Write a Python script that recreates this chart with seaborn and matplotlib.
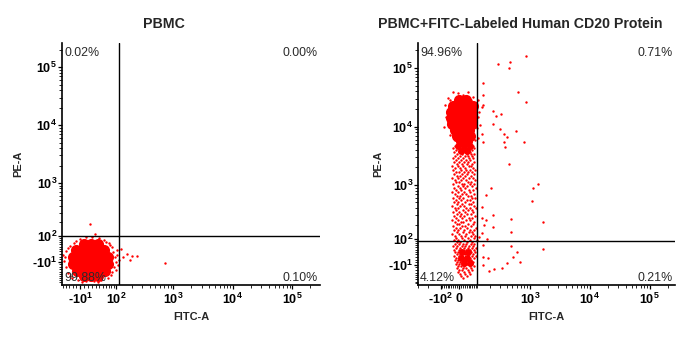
import numpy as np
import matplotlib
matplotlib.use("Agg")
import matplotlib.pyplot as plt
from matplotlib.ticker import FixedLocator, FixedFormatter, NullFormatter
import seaborn as sns

# ---------------- data ----------------
# Quadrant gates (FITC-A threshold, PE-A threshold) and quadrant statistics (UL, UR, LL, LR)
pbmc_gate = (116, 100)
cd20_gate = (100, 92)
pbmc_pct = ["0.02%", "0.00%", "99.88%", "0.10%"]
cd20_pct = ["94.96%", "0.71%", "4.12%", "0.21%"]

# PBMC alone: dense core of the double-negative population
pbmc_core_fitc = [-0.5, 17, 36,
                  -21, -3, 14.5, 33, 54,
                  -28.5, -10.4, 7, 25, 45, 68,
                  -28.5, -10.4, 7, 25, 45, 68,
                  -18, -0.5, 17, 36, 57.5,
                  -0.5, 17, 36]
pbmc_core_pe = [60.6, 60.6, 60.6,
                35, 35, 35, 35, 35,
                7.6, 7.6, 7.6, 7.6, 7.6, 7.6,
                -19.2, -19.2, -19.2, -19.2, -19.2, -19.2,
                -47.4, -47.4, -47.4, -47.4, -47.4,
                -70, -70, -70]
# PBMC alone: individual events at the rim of the population and outliers
pbmc_evt_fitc = [-10, 4.5, 20, 39, 54, -21, 71, -37, 83, -49, -52, -55, -49, -43, -31,
                 -15, 4.5, 25, 45, 68, 88, 96, 101, 92, 83, 106, 111,
                 -27, 60, 76, -44, -57, 100, 78, -38, -6, 35, 104, 114,
                 126, 138, 161, 198, 183, 243, 728, 14.5, 27]
pbmc_evt_pe = [84.5, 95, 95, 90, 80, 75, 65, 52, 47, 31, 7.6, -7.6, -31, -56, -80,
               -90, -95, -95, -90, -80, 27, 7.6, -11.5, -31, -52, 15, -23,
               68, 70, 58, 44, 16, -42, -64, -70, -102, -100, 38, -2,
               39, 7.6, 19, 11.5, -4, 11.5, -15, 181, 112]

# PBMC + FITC-CD20: dense core of the PE-high population
cd20_core_fitc = [0, 36,
                  -30.5, 5, 41, 74,
                  -41, -5, 30.5, 69,
                  -41, -5, 30.5, 69,
                  -36, 0, 36, 69,
                  -20, 15, 51,
                  -10, 25.5, 57,
                  10, 41]
cd20_core_pe = [28460, 28460,
                22450, 22450, 22450, 22450,
                17750, 17750, 17750, 17750,
                14000, 14000, 14000, 14000,
                11060, 11060, 11060, 11060,
                8740, 8740, 8740,
                6890, 6890, 6890,
                5660, 5660]
# denser patches: neck under the core and the PE-low cluster
cd20_patch_fitc = [-5, 25.5, 57, 10, 41, 15, 46, 10, 41, 25.5, 57]
cd20_patch_pe = [4650, 4650, 4650, 3820, 3820, 39.6, 39.6, 15.9, 15.9, -3, -3]

# PBMC + FITC-CD20: events along the PE streak, one PE level per row
cd20_streak_pe = [4650, 4300, 3970, 3670, 3395, 3137, 2900, 2680, 2477, 2290, 2117, 1956,
                  1807, 1670, 1544, 1427, 1318, 1218, 1126, 1040, 961, 888, 820, 757,
                  700, 646, 597, 551, 509, 470, 433, 399, 369, 340, 313, 288, 265, 243,
                  224, 205, 188, 172, 157, 143, 130, 117.5, 106, 95, 84.6, 74.8, 65.5,
                  56.4, 47.9, 39.6, 31.5, 23.7, 15.9, 8.3, 0.75, -6.8, -14.4, -22.1,
                  -30, -38, -46, -54.7, -64]
cd20_streak_fitc = [
    [-20, 5, 30.5, 57, 74], [-30.5, -5, 15, 41, 63, 80], [-15, 10, 25.5, 51, 69],
    [-25.5, 0, 20, 36, 57], [-10, 15, 41, 63, 80], [-20, 5, 30.5, 46, 69],
    [-30.5, -5, 20, 51, 74], [-15, 10, 36, 57], [-25.5, 0, 25.5, 46, 80],
    [-10, 15, 41, 69], [-36, -5, 20, 51, 63], [-20, 5, 30.5, 74],
    [-30.5, 10, 36, 57, 86], [-15, 0, 25.5, 46, 69], [-25.5, 15, 41, 80],
    [-10, 5, 30.5, 63], [-36, -5, 20, 51, 74], [-20, 10, 36, 86],
    [-15, 0, 46, 63], [-30.5, 15, 25.5, 57, 80], [-5, 20, 41, 69],
    [-25.5, 5, 30.5, 92], [-15, 10, 51, 74], [-36, -5, 25.5, 57],
    [-20, 15, 36, 80], [-10, 5, 46, 63], [-30.5, 0, 20, 69, 86],
    [-15, 10, 41, 57], [-25.5, -5, 30.5, 74], [-10, 15, 51, 63],
    [-36, 5, 25.5, 80], [-20, -5, 36, 57, 92], [-15, 20, 46, 69],
    [-30.5, 0, 30.5, 74], [-10, 10, 41, 63], [-25.5, 5, 25.5, 86],
    [-15, 15, 51, 69], [-36, -5, 36, 57], [-20, 10, 20, 80],
    [-10, 0, 46, 74], [-30.5, 15, 30.5, 63], [-15, 5, 41, 92],
    [-25.5, -5, 25.5, 57, 80], [-10, 20, 51, 69], [-36, 0, 36, 74],
    [-20, 10, 30.5, 63, 86], [-15, 15, 46, 80], [-25.5, -5, 25.5, 57, 98],
    [-10, 5, 41, 69], [-20, 0, 20, 36, 63, 80], [-30.5, -10, 15, 30.5, 51, 74],
    [-15, 5, 25.5, 46, 69, 92], [-25.5, 0, 10, 36, 57, 80], [-20, -5, 20, 41, 63, 86],
    [-10, 5, 30.5, 51, 74], [-25.5, 0, 15, 46, 69, 92], [-15, 10, 25.5, 57, 80],
    [-20, -5, 20, 36, 63], [-10, 5, 30.5, 51, 74], [-15, 0, 15, 41, 69],
    [-5, 10, 25.5, 57, 80], [-10, 20, 36, 63], [0, 15, 46, 69],
    [-5, 25.5, 51], [5, 30.5, 57], [10, 41], [20]]

# PBMC + FITC-CD20: rim of the core and scattered events
cd20_evt_fitc = [-57, -74, -69, -80, -46, -5, 46, 74, 105, 118, 105, 105, 133, -30.5,
                 -46, -63, -57, -36, -20, 20, 63, 92, 98, 86, 112,
                 280, 458, 440, 864, 140, 628, 864, 140, 227, 257, 318, 227, 304, 359,
                 406, 581, 794, 359, 374, 140, 133, 140, 440, 1368, 1129, 1085, 206,
                 163, 133, 227, 477, 1657, 163, 147, 227, 477, 133, 171, 140, 477, 604,
                 1657, 140, 516, 680, 406, 236, 331, 188, 140, 112, 179, 133]
cd20_evt_pe = [30800, 23300, 14600, 9830, 7170, 37400, 38900, 32000, 28460, 10630, 6370,
               14560, 21600, 38900,
               28460, 17750, 11960, 8740, 5890, 34600, 28460, 20760, 9450, 5890, 17750,
               117000, 127000, 100000, 161000, 55500, 38900, 26300, 34600, 18500, 15200,
               16400, 11100, 9080, 7470, 6630, 8400, 5450, 5450, 4470, 5450, 7470, 23300,
               2290, 1040, 888, 530, 888, 672, 416, 300, 254, 224, 243, 196, 180, 143,
               136, 100, 70, 65.5, 39.6, 52, 19.8, 19.8, 1, -3, -26, -22, -34, -10.6,
               112, 16, 265]

# Axis ticks and labels
pbmc_xticks = [-10, 100, 1000, 10000, 100000]
pbmc_xlabels = [r"-$\mathbf{10}^{\mathrm{1}}$", r"$\mathbf{10}^{\mathrm{2}}$",
                r"$\mathbf{10}^{\mathrm{3}}$", r"$\mathbf{10}^{\mathrm{4}}$",
                r"$\mathbf{10}^{\mathrm{5}}$"]
cd20_xticks = [-100, 0, 1000, 10000, 100000]
cd20_xlabels = [r"-$\mathbf{10}^{\mathrm{2}}$", r"$\mathbf{0}$",
                r"$\mathbf{10}^{\mathrm{3}}$", r"$\mathbf{10}^{\mathrm{4}}$",
                r"$\mathbf{10}^{\mathrm{5}}$"]
yticks = [-10, 100, 1000, 10000, 100000]
ylabels = [r"-$\mathbf{10}^{\mathrm{1}}$", r"$\mathbf{10}^{\mathrm{2}}$",
           r"$\mathbf{10}^{\mathrm{3}}$", r"$\mathbf{10}^{\mathrm{4}}$",
           r"$\mathbf{10}^{\mathrm{5}}$"]

# ---------------- style ----------------
sns.set_style("ticks")
plt.rcParams["font.family"] = ["Liberation Sans", "DejaVu Sans"]
plt.rcParams["font.weight"] = "bold"
plt.rcParams["mathtext.fontset"] = "custom"
plt.rcParams["mathtext.rm"] = "Liberation Sans"
plt.rcParams["mathtext.bf"] = "Liberation Sans:bold"
plt.rcParams["mathtext.it"] = "Liberation Sans:italic"

RED = "#ff0000"
TXT = "#2b2b2b"


def biex(c):
    """arcsinh display transform, linear near zero and log-like above ~c."""
    k = np.log(10)
    fwd = lambda v: np.arcsinh(np.asarray(v, float) / (2 * c)) / k
    inv = lambda u: 2 * c * np.sinh(np.asarray(u, float) * k)
    return fwd, inv


def minor_values():
    vals = [0.0]
    for e in range(1, 6):
        for m in range(1, 10):
            vals += [m * 10 ** e, -m * 10 ** e]
    return sorted(vals)


fig = plt.figure(figsize=(6.96, 3.4), dpi=100)
W, H = 696, 340
ax1 = fig.add_axes([62 / W, 1 - 285 / H, 258 / W, 242 / H])
ax2 = fig.add_axes([418 / W, 1 - 285 / H, 257 / W, 242 / H])


def draw_panel(ax, core, patch, evt, gate, pct, xticks, xlabels, xscale_c, yscale_c,
               xlim, ylim, streak=None):
    sns.scatterplot(x=core[0], y=core[1], ax=ax, color=RED, s=64, linewidth=0,
                    legend=False, zorder=2)
    if patch is not None:
        sns.scatterplot(x=patch[0], y=patch[1], ax=ax, color=RED, s=25, linewidth=0,
                        legend=False, zorder=2)
    if streak is not None:
        sx = [v for row in streak[1] for v in row]
        sy = [pe for pe, row in zip(streak[0], streak[1]) for _ in row]
        sns.scatterplot(x=sx, y=sy, ax=ax, color=RED, s=3, linewidth=0,
                        legend=False, zorder=2)
    sns.scatterplot(x=evt[0], y=evt[1], ax=ax, color=RED, s=3, linewidth=0,
                    legend=False, zorder=2)

    ax.set_xscale("function", functions=biex(xscale_c))
    ax.set_yscale("function", functions=biex(yscale_c))
    ax.set_xlim(*xlim)
    ax.set_ylim(*ylim)

    ax.axvline(gate[0], color="black", lw=1.0, zorder=3)
    ax.axhline(gate[1], color="black", lw=1.0, zorder=3)

    ax.xaxis.set_major_locator(FixedLocator(xticks))
    ax.xaxis.set_major_formatter(FixedFormatter(xlabels))
    ax.yaxis.set_major_locator(FixedLocator(yticks))
    ax.yaxis.set_major_formatter(FixedFormatter(ylabels))
    ax.xaxis.set_minor_locator(FixedLocator(minor_values()))
    ax.yaxis.set_minor_locator(FixedLocator(minor_values()))
    ax.xaxis.set_minor_formatter(NullFormatter())
    ax.yaxis.set_minor_formatter(NullFormatter())
    ax.tick_params(which="major", direction="out", length=3, width=0.9,
                   labelsize=9, colors="black")
    ax.tick_params(which="minor", direction="out", length=2, width=0.7)
    ax.tick_params(axis="x", which="major", pad=2)
    ax.tick_params(axis="y", which="major", pad=0.5)

    sns.despine(ax=ax)
    for s in ("left", "bottom"):
        ax.spines[s].set_linewidth(1.2)
        ax.spines[s].set_color("black")

    kw = dict(transform=ax.transAxes, fontsize=8.9, color=TXT, zorder=4,
              fontweight="normal")
    ax.text(0.008, 0.985, pct[0], ha="left", va="top", **kw)
    ax.text(0.992, 0.985, pct[1], ha="right", va="top", **kw)
    ax.text(0.008, 0.017, pct[2], ha="left", va="baseline", **kw)
    ax.text(0.992, 0.017, pct[3], ha="right", va="baseline", **kw)

    ax.set_xlabel("FITC-A", fontsize=7.9, fontweight="bold")
    ax.set_ylabel("PE-A", fontsize=7.9, fontweight="bold")
    ax.xaxis.set_label_coords(0.5, -0.112)


draw_panel(ax1, (pbmc_core_fitc, pbmc_core_pe), None, (pbmc_evt_fitc, pbmc_evt_pe),
           pbmc_gate, pbmc_pct, pbmc_xticks, pbmc_xlabels, 32, 48,
           (-62, 2.9e5), (-117, 2.64e5))
draw_panel(ax2, (cd20_core_fitc, cd20_core_pe), (cd20_patch_fitc, cd20_patch_pe),
           (cd20_evt_fitc, cd20_evt_pe), cd20_gate, cd20_pct, cd20_xticks, cd20_xlabels,
           66, 48, (-305, 2.63e5), (-98, 2.68e5),
           streak=(cd20_streak_pe, cd20_streak_fitc))
ax1.yaxis.set_label_coords(-0.149, 0.5)
ax2.yaxis.set_label_coords(-0.134, 0.5)

fig.text(164 / W, 1 - 24 / H, "PBMC", ha="center", va="center",
         fontsize=10.2, fontweight="bold")
fig.text(520 / W, 1 - 24 / H, "PBMC+FITC-Labeled Human CD20 Protein", ha="center",
         va="center", fontsize=10.2, fontweight="bold")

fig.savefig("out.png", dpi=100, facecolor="white")
